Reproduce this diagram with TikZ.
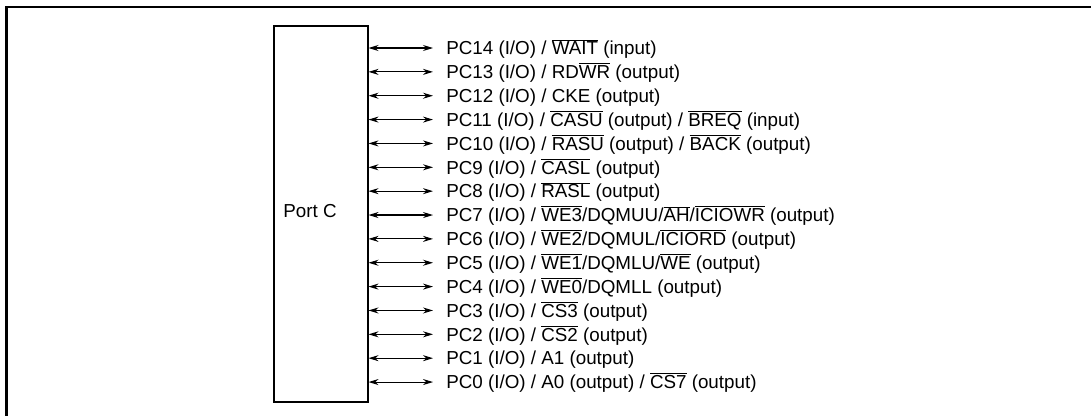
\documentclass[tikz,border=0pt]{standalone}
\usepackage{fontspec}
\setmainfont{Liberation Sans}
\usetikzlibrary{arrows.meta}
\newcommand{\ovl}[1]{$\overline{\mbox{#1}}$}
\tikzset{
  frameline/.style={line width=1.6pt},
  portbox/.style={draw, line width=1.5pt, minimum width=70.5pt, minimum height=282pt, inner sep=0pt},
  lbl/.style={anchor=base west, inner sep=0pt, font=\fontsize{14.1pt}{16pt}\selectfont},
  sig/.style={line width=0.8pt, {Stealth[length=7.5pt,width=4.5pt]}-{Stealth[length=7.5pt,width=4.5pt]}}
}
\begin{document}
\begin{tikzpicture}[x=0.75pt,y=-0.75pt]
\useasboundingbox (0,0) rectangle (1091,415);
\draw[frameline] (6.5,416) -- (6.5,7) -- (1092,7);
\node[portbox] (box) at (320.5,214) {};
\node[lbl, anchor=base] (portc) at (310,217.5) {Port C};
\newcommand{\sigrow}[2]{%
  \coordinate (a#1) at (433,{48+23.86*(14-#1)});
  \node[lbl] (t#1) at (446,{48+23.86*(14-#1)+6.7}) {#2};
  \draw[sig] (box.east |- a#1) -- (a#1);
}
\sigrow{14}{PC14 (I/O) / \ovl{WAIT} (input)}
\sigrow{13}{PC13 (I/O) / RD\ovl{WR} (output)}
\sigrow{12}{PC12 (I/O) / CKE (output)}
\sigrow{11}{PC11 (I/O) / \ovl{CASU} (output) / \ovl{BREQ} (input)}
\sigrow{10}{PC10 (I/O) / \ovl{RASU} (output) / \ovl{BACK} (output)}
\sigrow{9}{PC9 (I/O) / \ovl{CASL} (output)}
\sigrow{8}{PC8 (I/O) / \ovl{RASL} (output)}
\sigrow{7}{PC7 (I/O) / \ovl{WE3}/DQMUU/\ovl{AH}/\ovl{ICIOWR} (output)}
\sigrow{6}{PC6 (I/O) / \ovl{WE2}/DQMUL/\ovl{ICIORD} (output)}
\sigrow{5}{PC5 (I/O) / \ovl{WE1}/DQMLU/\ovl{WE} (output)}
\sigrow{4}{PC4 (I/O) / \ovl{WE0}/DQMLL (output)}
\sigrow{3}{PC3 (I/O) / \ovl{CS3} (output)}
\sigrow{2}{PC2 (I/O) / \ovl{CS2} (output)}
\sigrow{1}{PC1 (I/O) / A1 (output)}
\sigrow{0}{PC0 (I/O) / A0 (output) / \ovl{CS7} (output)}
\end{tikzpicture}
\end{document}
